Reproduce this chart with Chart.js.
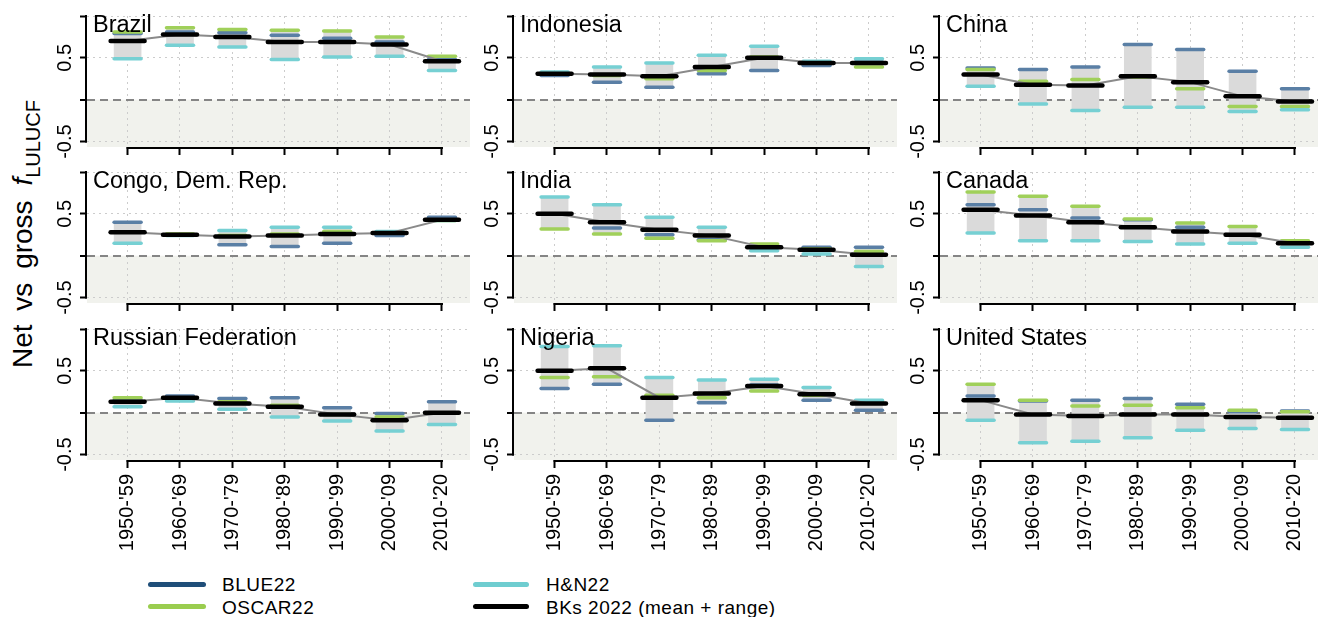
<!DOCTYPE html>
<html>
<head>
<meta charset="utf-8">
<script src="https://cdn.jsdelivr.net/npm/chart.js@4.4.1/dist/chart.umd.min.js"></script>
<style>
  html, body { margin: 0; padding: 0; background: #fff; width: 1318px; height: 617px; overflow: hidden; }
  body { position: relative; font-family: "Liberation Sans", Arial, sans-serif; color: #000; }
  canvas { position: absolute; }
  #ylab { position: absolute; left: 9px; top: 368px; transform-origin: 0 0; transform: rotate(-90deg);
          white-space: nowrap; font-size: 28px; line-height: 28px; word-spacing: 6px; }
  #ylab i { margin-left: 1px; }
  #ylab sub { font-size: 20px; vertical-align: -8px; line-height: 0; }
  .swatch { position: absolute; height: 5px; border-radius: 3px; }
  .ltext { position: absolute; font-size: 19px; line-height: 19px; letter-spacing: 0.5px; white-space: nowrap; }
</style>
</head>
<body>
<div id="ylab">Net vs gross <i>f</i><sub>LULUCF</sub></div>

<div class="swatch" style="left:148px; top:582px; width:58px; background:#1f4e79"></div>
<div class="ltext" style="left:222px; top:575px">BLUE22</div>
<div class="swatch" style="left:148px; top:604px; width:58px; background:#9acd4f"></div>
<div class="ltext" style="left:222px; top:598px">OSCAR22</div>
<div class="swatch" style="left:473px; top:582px; width:56px; background:#6fcdd0"></div>
<div class="ltext" style="left:546px; top:575px">H&amp;N22</div>
<div class="swatch" style="left:473px; top:604px; width:56px; background:#000"></div>
<div class="ltext" style="left:546px; top:598px">BKs 2022 (mean + range)</div>

<script>
// Données
const decades = ["1950-'59", "1960-'69", "1970-'79", "1980-'89", "1990-'99", "2000-'09", "2010-'20"];
const countries = ['Brazil', 'Indonesia', 'China', 'Congo, Dem. Rep.', 'India', 'Canada',
                   'Russian Federation', 'Nigeria', 'United States'];

// une ligne par pays, dans l'ordre de countries
const blue22 = [
  [0.79, 0.81, 0.80, 0.77, 0.735, 0.69, 0.48],
  [0.29, 0.21, 0.15, 0.31, 0.35, 0.41, 0.45],
  [0.38, 0.36, 0.39, 0.66, 0.60, 0.34, 0.13],
  [0.40, 0.25, 0.13, 0.11, 0.15, 0.24, 0.46],
  [0.50, 0.33, 0.25, 0.19, 0.11, 0.10, 0.10],
  [0.61, 0.55, 0.45, 0.43, 0.34, 0.25, 0.16],
  [0.15, 0.20, 0.17, 0.18, 0.06, -0.01, 0.13],
  [0.29, 0.34, -0.09, 0.12, 0.33, 0.15, 0.03],
  [0.20, 0.14, 0.15, 0.17, 0.10, 0.01, 0.02]
];
const oscar22 = [
  [0.81, 0.86, 0.84, 0.83, 0.82, 0.75, 0.52],
  [0.32, 0.29, 0.25, 0.35, 0.51, 0.45, 0.39],
  [0.36, 0.22, 0.24, 0.27, 0.13, -0.08, -0.08],
  [0.28, 0.26, 0.24, 0.26, 0.29, 0.28, 0.42],
  [0.32, 0.26, 0.21, 0.18, 0.14, 0.08, 0.05],
  [0.76, 0.71, 0.59, 0.44, 0.39, 0.35, 0.18],
  [0.18, 0.18, 0.13, 0.09, -0.02, -0.05, 0.00],
  [0.42, 0.43, 0.21, 0.18, 0.26, 0.21, 0.13],
  [0.34, 0.15, 0.08, 0.09, 0.06, 0.03, 0.01]
];
const hn22 = [
  [0.49, 0.65, 0.63, 0.48, 0.51, 0.52, 0.35],
  [0.33, 0.39, 0.44, 0.53, 0.64, 0.46, 0.49],
  [0.16, -0.05, -0.13, -0.09, -0.09, -0.14, -0.12],
  [0.15, 0.24, 0.30, 0.34, 0.34, 0.29, 0.42],
  [0.70, 0.61, 0.46, 0.34, 0.06, 0.02, -0.13],
  [0.27, 0.18, 0.18, 0.17, 0.14, 0.15, 0.10],
  [0.07, 0.14, 0.04, -0.05, -0.10, -0.22, -0.14],
  [0.79, 0.80, 0.42, 0.39, 0.40, 0.30, 0.15],
  [-0.09, -0.36, -0.34, -0.30, -0.21, -0.19, -0.20]
];
const bksMean = [
  [0.70, 0.78, 0.75, 0.69, 0.69, 0.66, 0.46],
  [0.31, 0.30, 0.28, 0.39, 0.50, 0.44, 0.44],
  [0.30, 0.18, 0.17, 0.28, 0.21, 0.04, -0.02],
  [0.28, 0.25, 0.23, 0.24, 0.26, 0.27, 0.43],
  [0.50, 0.40, 0.31, 0.24, 0.10, 0.07, 0.01],
  [0.55, 0.48, 0.40, 0.34, 0.29, 0.25, 0.15],
  [0.13, 0.18, 0.11, 0.07, -0.02, -0.09, 0.00],
  [0.50, 0.53, 0.18, 0.23, 0.32, 0.22, 0.11],
  [0.15, -0.02, -0.04, -0.02, -0.02, -0.05, -0.06]
];

const yTicks = [-0.5, 0, 0.5, 1.0];
const yLabelTicks = [-0.5, 0.5];

// Mise en page des panneaux
const FONT = '"Liberation Sans", Arial, sans-serif';
const AXIS_X = [87, 514, 940];
const AREA_TOP = [16, 172, 329];
const AREA_W = 383;
const AREA_H = 131;
const Y_MIN = -0.565, Y_MAX = 1.0;
const X_MIN = -0.775, X_MAX = 6.535;

// Dessin: fond négatif, axes façon R, étiquettes y et titre
const panelDecor = {
  id: 'panelDecor',
  beforeDraw(chart) {
    const {ctx, chartArea: a, scales: {y}} = chart;
    const y0 = y.getPixelForValue(0);
    ctx.save();
    ctx.fillStyle = '#f1f2ed';
    ctx.fillRect(a.left, y0, a.right - a.left, a.bottom - y0);
    ctx.restore();
  },
  beforeDatasetDraw(chart) {
    chart.ctx.lineCap = 'round';
  },
  afterDraw(chart, args, opts) {
    const {ctx, chartArea: a, scales: {x, y}} = chart;
    ctx.save();
    ctx.strokeStyle = '#000';
    ctx.lineWidth = 2;
    ctx.lineCap = 'butt';
    ctx.beginPath();
    ctx.moveTo(a.left - 1, y.getPixelForValue(yTicks[yTicks.length - 1]) - 1);
    ctx.lineTo(a.left - 1, y.getPixelForValue(yTicks[0]) + 1);
    ctx.moveTo(x.getPixelForValue(0) - 1, a.bottom + 1);
    ctx.lineTo(x.getPixelForValue(decades.length - 1) + 1, a.bottom + 1);
    ctx.stroke();

    ctx.fillStyle = '#000';
    ctx.font = '20px ' + FONT;
    ctx.textAlign = 'center';
    ctx.textBaseline = 'middle';
    yLabelTicks.forEach(v => {
      ctx.save();
      ctx.translate(a.left - 22, y.getPixelForValue(v));
      ctx.rotate(-Math.PI / 2);
      ctx.fillText(v.toFixed(1), 0, 0);
      ctx.restore();
    });

    ctx.font = '23.5px ' + FONT;
    ctx.textAlign = 'left';
    ctx.textBaseline = 'alphabetic';
    ctx.fillText(opts.title, a.left + 6, a.top + 16);
    ctx.restore();
  }
};

function points(arr) {
  return arr.map((v, i) => ({x: i, y: v}));
}

function makePanel(k) {
  const r = Math.floor(k / 3), c = k % 3;
  const bottomRow = r === 2;
  const xH = bottomRow ? 112 : 14;
  const w = 60 + AREA_W + 10;
  const h = 6 + AREA_H + xH;

  const canvas = document.createElement('canvas');
  canvas.width = w;
  canvas.height = h;
  canvas.style.left = (AXIS_X[c] - 60) + 'px';
  canvas.style.top = (AREA_TOP[r] - 6) + 'px';
  canvas.style.width = w + 'px';
  canvas.style.height = h + 'px';
  document.body.appendChild(canvas);

  // plage min-max des trois modèles
  const range = decades.map((d, i) => {
    const vals = [blue22[k][i], oscar22[k][i], hn22[k][i]];
    return {x: i, y: [Math.min(...vals), Math.max(...vals)]};
  });

  const segment = (label, data, color, order) => ({
    type: 'line', label: label, data: points(data), showLine: false,
    pointStyle: 'line', pointRadius: 13.5, pointHoverRadius: 13.5,
    pointBorderWidth: 3.5, pointBorderColor: color, pointBackgroundColor: color,
    order: order
  });

  new Chart(canvas, {
    type: 'bar',
    data: {
      datasets: [
        {
          type: 'line', label: 'BKs 2022', data: points(bksMean[k]),
          borderColor: '#8a8a8a', borderWidth: 2, tension: 0, fill: false,
          pointStyle: 'line', pointRadius: 17, pointHoverRadius: 17,
          pointBorderWidth: 4.5, pointBorderColor: '#000', pointBackgroundColor: '#000',
          order: 0
        },
        segment('H&N22', hn22[k], '#76d0d3', 1),
        segment('OSCAR22', oscar22[k], '#a0d05a', 2),
        segment('BLUE22', blue22[k], '#5a7fa5', 3),
        {
          type: 'bar', label: 'range', data: range,
          backgroundColor: '#dadada', borderWidth: 0, barThickness: 27,
          order: 4
        }
      ]
    },
    options: {
      responsive: false,
      animation: false,
      events: [],
      layout: {autoPadding: false, padding: {left: 0, right: 10, top: 6, bottom: 0}},
      plugins: {
        legend: {display: false},
        tooltip: {enabled: false},
        panelDecor: {title: countries[k]}
      },
      scales: {
        x: {
          type: 'linear', min: X_MIN, max: X_MAX, offset: false,
          afterBuildTicks: s => { s.ticks = decades.map((d, i) => ({value: i})); },
          afterFit: s => { s.height = xH; },
          ticks: {
            display: bottomRow, autoSkip: false, minRotation: 90, maxRotation: 90,
            padding: 6, color: '#000', font: {family: FONT, size: 20},
            callback: v => decades[v]
          },
          grid: {offset: false, color: '#cccccc', lineWidth: 1, tickColor: '#000', tickWidth: 2, tickLength: 8, tickBorderDash: []},
          border: {display: false, dash: [2, 4]}
        },
        y: {
          type: 'linear', min: Y_MIN, max: Y_MAX,
          afterBuildTicks: s => { s.ticks = yTicks.map(v => ({value: v})); },
          afterFit: s => { s.width = 60; },
          ticks: {display: false},
          grid: {
            color: ctx => (ctx.tick && ctx.tick.value === 0) ? '#858585' : '#cccccc',
            lineWidth: ctx => (ctx.tick && ctx.tick.value === 0) ? 2 : 1,
            tickColor: '#000', tickWidth: 2, tickLength: 7, tickBorderDash: []
          },
          border: {display: false, dash: ctx => (ctx.tick && ctx.tick.value === 0) ? [8, 5] : [2, 4]}
        }
      }
    },
    plugins: [panelDecor]
  });
}

countries.forEach((name, k) => makePanel(k));
</script>
</body>
</html>
